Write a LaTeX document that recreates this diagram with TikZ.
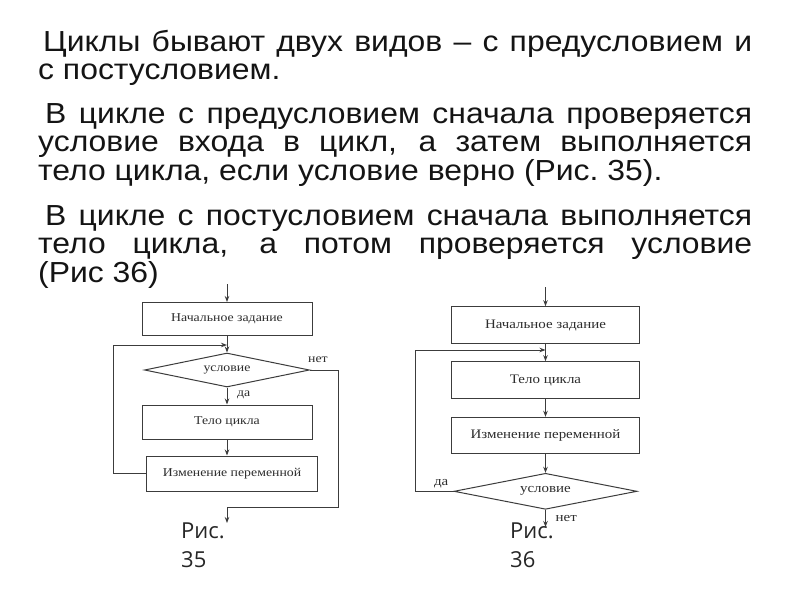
\documentclass[tikz,border=0pt]{standalone}
\usepackage{fontspec}
\setmainfont[FakeStretch=1.1]{Liberation Sans}
\newfontfamily\chartfont[FakeStretch=1.15]{Liberation Serif}
\newfontfamily\capfont{Open Sans}
\usetikzlibrary{shapes.geometric,arrows.meta}
\definecolor{linecol}{RGB}{60,60,60}
\definecolor{chartink}{RGB}{45,45,45}
\tolerance=10000
\begin{document}
\begin{tikzpicture}[x=1pt,y=-1pt,
    blok/.style={draw=linecol, line width=1pt, inner sep=0pt, text=chartink,
      font=\chartfont\fontsize{#1}{#1}\selectfont},
    blok/.default=12,
    usl/.style={blok=#1, diamond, aspect=5},
    usl/.default=12,
    pil/.style={->, >={Stealth[length=6pt,width=4.5pt]}, draw=linecol, line width=1pt},
    lin/.style={draw=linecol, line width=1pt},
    metka/.style={inner sep=0pt, text=chartink, font=\chartfont\fontsize{#1}{#1}\selectfont},
    metka/.default=12,
    abzac/.style={anchor=base west, inner sep=0pt, text width=714pt, align=justify,
      text=black!92, font=\fontsize{29}{28.5}\selectfont},
    podpis/.style={anchor=base west, inner sep=0pt, align=left, text=black!85,
      font=\capfont\fontsize{22}{29}\selectfont}]
    \fill[white] (0,0) rectangle (800,600);
    \useasboundingbox (0,0) rectangle (800,600);

    % text above the charts
    \node[abzac] (abz1) at (38,51) {\hspace*{5pt}Циклы бывают двух видов – с~предусловием и\linebreak
      с постусловием.};
    \node[abzac] (abz2) at (38,123) {\hspace*{7pt}В цикле с предусловием сначала проверяется\linebreak
      условие входа в цикл, а затем выполняется\linebreak
      тело цикла, если условие верно (Рис.~35).};
    \node[abzac] (abz3) at (38,225) {\hspace*{7pt}В цикле с постусловием сначала выполняется\linebreak
      тело цикла, а потом проверяется условие\linebreak
      (Рис 36)};

    % loop with precondition
    \coordinate (v1) at (227,284);
    \node[blok, minimum width=170, minimum height=33] (nz1) at (227,319) {Начальное задание};
    \coordinate (j1) at (227,345);
    \node[usl, minimum width=165, minimum height=34] (us1) at (227,370) {условие};
    \node[blok, minimum width=170, minimum height=34] (tc1) at (227,422) {Тело цикла};
    \node[blok, minimum width=171, minimum height=35] (iz1) at (232,473.5) {Изменение переменной};
    \coordinate (o1) at (227,507);
    \coordinate (k1) at (227,523);
    \draw[pil] (v1) -- (nz1);
    \draw[pil] (nz1) -- (us1);
    \draw[pil] (us1) -- (tc1);
    \draw[pil] (tc1) -- (tc1.south |- iz1.north);
    \draw[pil] (iz1.west) -- ++(-33,0) |- (j1);
    \draw[lin] (us1.east) -- ++(28,0) |- (o1);
    \draw[pil] (o1) -- (k1);
    \node[metka, anchor=base west] (net1) at ([xshift=-2pt,yshift=8pt]us1.east) {нет};
    \node[metka, anchor=base west] (da1) at ([xshift=10pt,yshift=-9pt]us1.south) {да};

    % loop with postcondition
    \coordinate (v2) at (545.5,287);
    \node[blok=13, minimum width=188, minimum height=36.6] (nz2) at (545.5,325) {Начальное задание};
    \coordinate (j2) at (545.5,350);
    \node[blok=13, minimum width=188, minimum height=36.6] (tc2) at (545.5,380) {Тело цикла};
    \node[blok=13, minimum width=188, minimum height=36] (iz2) at (545.5,435.3) {Изменение переменной};
    \node[usl=13, minimum width=183, minimum height=36] (us2) at (545.5,491.3) {условие};
    \coordinate (k2) at (545.5,527);
    \draw[pil] (v2) -- (nz2);
    \draw[pil] (nz2) -- (tc2);
    \draw[pil] (tc2) -- (iz2);
    \draw[pil] (iz2) -- (us2);
    \draw[pil] (us2.west) -- ++(-38,0) |- (j2);
    \draw[pil] (us2) -- (k2);
    \node[metka=13, anchor=base east] (da2) at ([xshift=-5pt,yshift=6pt]us2.west) {да};
    \node[metka=13, anchor=base west] (net2) at ([xshift=10pt,yshift=-12pt]us2.south) {нет};

    % captions
    \node[podpis] (ris35) at (181,567) {Рис.\\35};
    \node[podpis] (ris36) at (510,567) {Рис.\\36};
\end{tikzpicture}
\end{document}
